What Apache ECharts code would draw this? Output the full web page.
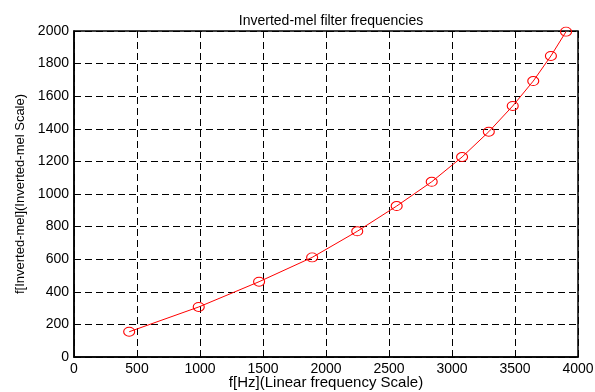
<!DOCTYPE html>
<html>
<head>
<meta charset="utf-8">
<script src="https://cdn.jsdelivr.net/npm/echarts@6/dist/echarts.min.js"></script>
<style>html,body{margin:0;padding:0;background:#fff;}#c{width:595px;height:392px;}</style>
</head>
<body>
<div id="c"></div>
<script>
const titleText = 'Inverted-mel filter frequencies';
const xLabel = 'f[Hz](Linear frequency Scale)';
const yLabel = 'f[Inverted-mel](Inverted-mel Scale)';
const linearHz = [438, 990, 1469, 1890, 2248, 2561, 2839, 3080, 3292, 3482, 3645, 3785, 3905];
const invMel = [155, 307, 462, 611, 771, 926, 1075, 1227, 1382, 1540, 1693, 1847, 1996];
const xTicks = [0, 500, 1000, 1500, 2000, 2500, 3000, 3500, 4000];
const yTicks = [0, 200, 400, 600, 800, 1000, 1200, 1400, 1600, 1800, 2000];

const font = 'Liberation Sans, Arial, sans-serif';
const chart = echarts.init(document.getElementById('c'), null, {renderer: 'canvas'});
const gridLine = {show: true, lineStyle: {color: '#000', type: [7, 4], width: 1}};
chart.setOption({
  animation: false,
  backgroundColor: '#fff',
  title: {
    text: titleText, left: 326, top: 9, textAlign: 'center',
    textStyle: {fontFamily: font, fontSize: 14, fontWeight: 'normal', color: '#000'}
  },
  grid: {left: 74, right: 17, top: 31, bottom: 35, show: true, borderColor: '#000', borderWidth: 1.5,
         containLabel: false, outerBoundsMode: 'none'},
  xAxis: {
    type: 'value', min: xTicks[0], max: xTicks[xTicks.length - 1], interval: 500,
    name: xLabel, nameLocation: 'middle', nameGap: 18, nameMoveOverlap: false,
    nameTextStyle: {fontFamily: font, fontSize: 15, color: '#000'},
    axisLine: {show: true, lineStyle: {color: '#000', width: 1.5}},
    axisTick: {show: true, inside: true, length: 4, lineStyle: {color: '#000'}},
    axisLabel: {fontFamily: font, fontSize: 14, color: '#000', margin: 5, formatter: v => String(v)},
    splitLine: gridLine
  },
  yAxis: {
    type: 'value', min: yTicks[0], max: yTicks[yTicks.length - 1], interval: 200,
    name: yLabel, nameLocation: 'middle', nameGap: 47, nameMoveOverlap: false,
    nameTextStyle: {fontFamily: font, fontSize: 13, color: '#000'},
    axisLine: {show: true, lineStyle: {color: '#000', width: 1.5}},
    axisTick: {show: true, inside: true, length: 4, lineStyle: {color: '#000'}},
    axisLabel: {fontFamily: font, fontSize: 14, color: '#000', margin: 5, formatter: v => String(v)},
    splitLine: gridLine
  },
  series: [{
    type: 'line',
    data: linearHz.map((x, i) => [x, invMel[i]]),
    lineStyle: {color: '#ff0000', width: 1},
    symbol: 'circle', symbolSize: [11, 9],
    itemStyle: {color: 'rgba(0,0,0,0)', borderColor: '#ff0000', borderWidth: 1},
    z: 3
  }]
});
</script>
</body>
</html>
